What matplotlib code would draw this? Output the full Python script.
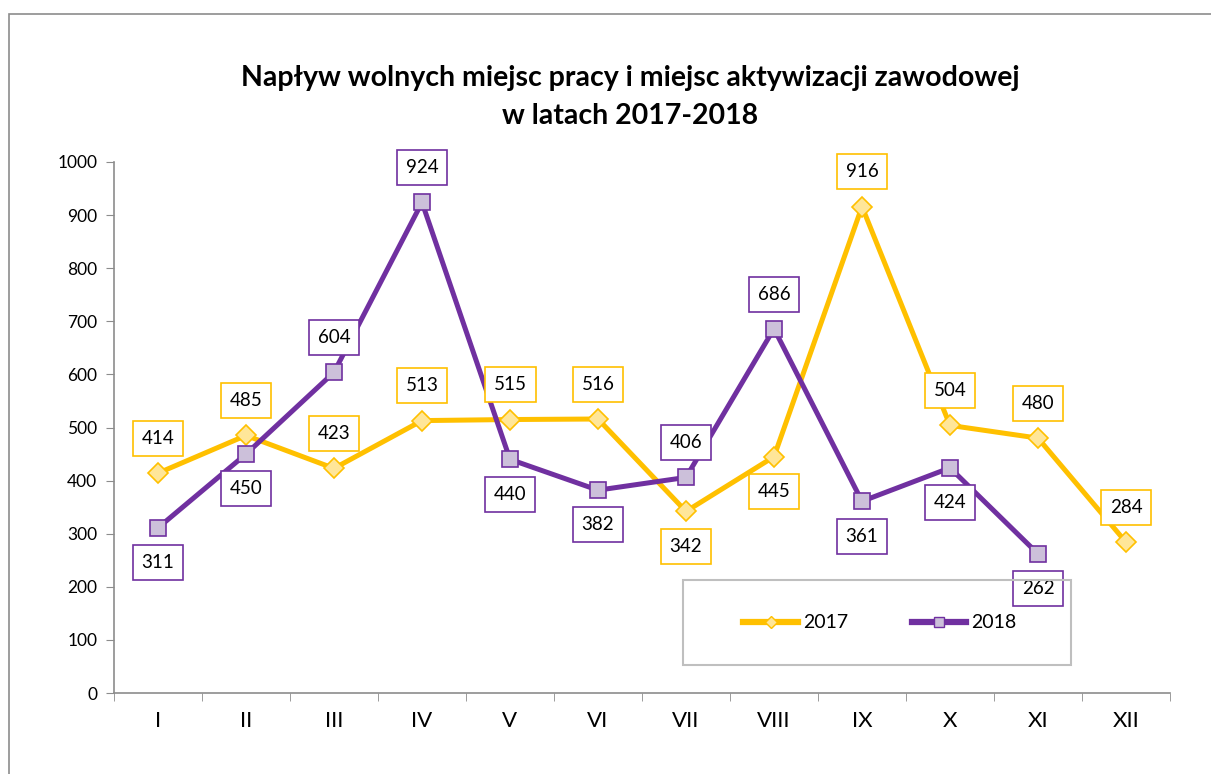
import numpy as np
import matplotlib.pyplot as plt
from matplotlib.patches import Rectangle
from matplotlib.lines import Line2D

plt.rcParams['font.family'] = ['Lato', 'DejaVu Sans']

# dane
months = ["I", "II", "III", "IV", "V", "VI", "VII", "VIII", "IX", "X", "XI", "XII"]
v2017 = [414, 485, 423, 513, 515, 516, 342, 445, 916, 504, 480, 284]
v2018 = [311, 450, 604, 924, 440, 382, 406, 686, 361, 424, 262]
# położenie etykiet: 1 = nad punktem, -1 = pod punktem
pos2017 = [1, 1, 1, 1, 1, 1, -1, -1, 1, 1, 1, 1]
pos2018 = [-1, -1, 1, 1, -1, -1, 1, 1, -1, -1, -1]

c17, c17f = '#FFC000', '#FFE699'
c18, c18f = '#7030A0', '#CCC0DA'
grey = '#8C8C8C'

fig = plt.figure(figsize=(12.11, 7.74), dpi=100)
fig.patches.append(Rectangle((9/1211, -0.1), 1.2, 1 - 14/774 + 0.1,
                             transform=fig.transFigure, fill=False,
                             edgecolor=grey, linewidth=1.2))

ax = fig.add_axes([114/1211, 1 - 693/774, (1170 - 114)/1211, (693 - 162)/774])

x17 = np.arange(len(v2017))
x18 = np.arange(len(v2018))
ax.plot(x17, v2017, color=c17, lw=3.6, marker='D', ms=10,
        mfc=c17f, mec=c17, mew=1.2, zorder=3)
ax.plot(x18, v2018, color=c18, lw=3.6, marker='s', ms=11,
        mfc=c18f, mec=c18, mew=1.2, zorder=4)

def labels(xs, vals, pos, col):
    for x, v, p in zip(xs, vals, pos):
        ax.annotate(str(v), (x, v), xytext=(0, 25 * p), textcoords='offset points',
                    ha='center', va='center', fontsize=13.5, zorder=6,
                    bbox=dict(boxstyle='square,pad=0.48', fc='white', ec=col, lw=1.2))

labels(x17, v2017, pos2017, c17)
labels(x18, v2018, pos2018, c18)

ax.set_xlim(-0.5, 11.5)
ax.set_ylim(0, 1000)
ax.set_yticks(range(0, 1001, 100))
ax.set_xticks(range(12))
ax.set_xticklabels(months, fontsize=16)
ax.set_xticks(np.arange(-0.5, 12, 1), minor=True)
ax.tick_params(axis='x', which='major', length=0, pad=13)
ax.tick_params(axis='x', which='minor', length=6, color=grey)
ax.tick_params(axis='y', length=6, color=grey, labelsize=12.5, pad=6)
for s in ['top', 'right']:
    ax.spines[s].set_visible(False)
for s in ['left', 'bottom']:
    ax.spines[s].set_color(grey)
    ax.spines[s].set_linewidth(1.2)

# legenda
fig.patches.append(Rectangle((683/1211, 1 - 665/774), (1071 - 683)/1211, 85/774,
                             transform=fig.transFigure, fill=False,
                             edgecolor='#BFBFBF', linewidth=1.5, zorder=5))
handles = [Line2D([], [], color=c17, lw=4.5, marker='D', ms=6, mfc=c17f, mec=c17, mew=1),
           Line2D([], [], color=c18, lw=4.5, marker='s', ms=7, mfc=c18f, mec=c18, mew=1)]
ax.legend(handles, ['2017', '2018'], loc='center', bbox_to_anchor=(880/1211, 1 - 623/774),
          bbox_transform=fig.transFigure, ncol=2, frameon=False, fontsize=14,
          handlelength=2.8, handletextpad=0.25, columnspacing=3.3)

fig.text(630/1211, 1 - 78/774, 'Napływ wolnych miejsc pracy i miejsc aktywizacji zawodowej',
         ha='center', va='center', fontsize=20.5, fontweight='bold')
fig.text(630/1211, 1 - 116/774, 'w latach 2017-2018',
         ha='center', va='center', fontsize=20.5, fontweight='bold')

fig.savefig('out.png', dpi=100)
